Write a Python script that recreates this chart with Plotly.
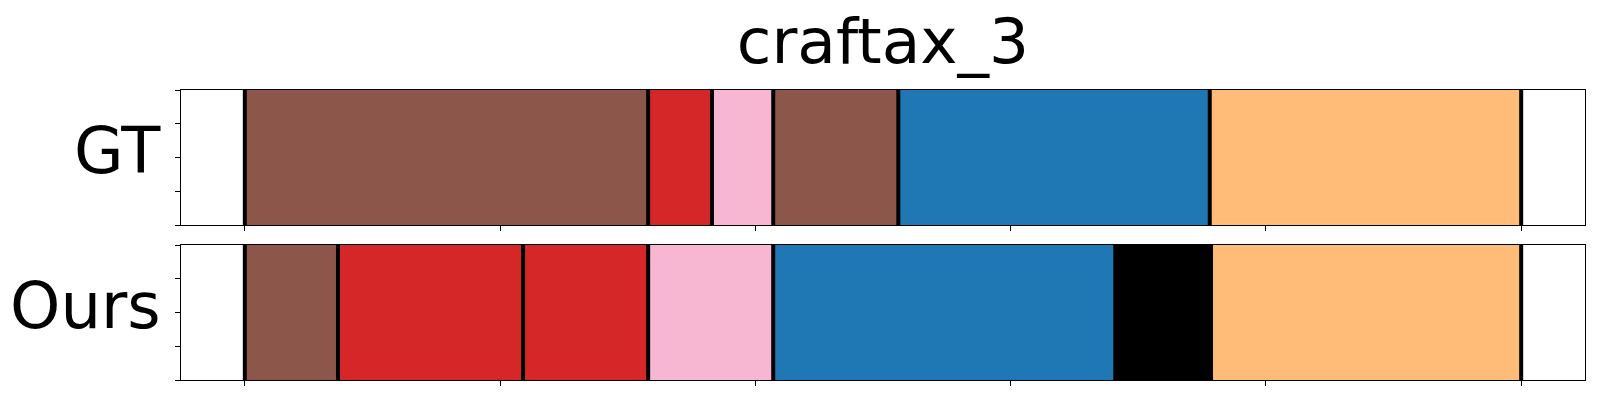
import plotly.graph_objects as go
from plotly.subplots import make_subplots

title = "craftax_3"
row_names = ["GT", "Ours"]

# segment boundaries (frame indices) and class of each segment
gt_bounds = [0, 158, 183, 207, 256, 378, 500]
gt_classes = ["mine", "craft", "place", "mine", "walk", "drink"]

ours_bounds = [0, 36.5, 109, 158, 207, 341, 378.5, 500]
ours_classes = ["mine", "craft", "craft", "place", "walk", "none", "drink"]

x_ticks = [0, 100, 200, 300, 400, 500]
y_ticks = [0, 0.25, 0.5, 0.75, 1.0]

class_colors = {
    "mine": "#8c564b",
    "craft": "#d62728",
    "place": "#f7b6d2",
    "walk": "#1f77b4",
    "drink": "#ffbb78",
    "none": "#000000",
}

# page has an 8px body margin, so the figure is drawn 8px in from the top-left
W, H = 1592, 392
ml, mr, mt, mb = 173, 15, 82, 20
ph = H - mt - mb
pw = W - ml - mr

fig = make_subplots(rows=2, cols=1, vertical_spacing=20 / ph)

rows = [(gt_bounds, gt_classes), (ours_bounds, ours_classes)]
for r, (bounds, classes) in enumerate(rows, start=1):
    starts = bounds[:-1]
    lengths = [b - a for a, b in zip(bounds[:-1], bounds[1:])]
    fig.add_trace(go.Bar(
        orientation="h",
        y=[0.5] * len(starts),
        x=lengths,
        base=starts,
        width=1,
        marker=dict(color=[class_colors[c] for c in classes], line=dict(width=0)),
        showlegend=False,
        hoverinfo="skip",
    ), row=r, col=1)
    lx, ly = [], []
    for b in bounds:
        lx += [b, b, None]
        ly += [0, 1, None]
    fig.add_trace(go.Scatter(
        x=lx, y=ly, mode="lines",
        line=dict(color="black", width=4),
        showlegend=False, hoverinfo="skip",
    ), row=r, col=1)

axis_common = dict(showline=True, linecolor="black", linewidth=1, mirror=True,
                   ticks="outside", ticklen=5, tickwidth=1, tickcolor="black",
                   showticklabels=False, showgrid=False, zeroline=False)
for r in (1, 2):
    fig.update_xaxes(range=[-25, 525], tickvals=x_ticks, **axis_common, row=r, col=1)
    fig.update_yaxes(range=[0, 1], tickvals=y_ticks, **axis_common, row=r, col=1)

# title centred over the plotting area
plot_cx = (ml + pw / 2) / W

fig.update_layout(
    width=W, height=H,
    margin=dict(l=ml, r=mr, t=mt, b=mb),
    plot_bgcolor="white", paper_bgcolor="white",
    barmode="overlay",
    font=dict(family="DejaVu Sans", color="black"),
    title=dict(text=title, x=plot_cx, xanchor="center", xref="container",
               y=1 - 33 / H, yanchor="middle", yref="container",
               font=dict(size=63, family="DejaVu Sans", color="black")),
)

# row labels
dom1 = fig.layout.yaxis.domain
dom2 = fig.layout.yaxis2.domain
for name, dom in zip(row_names, [dom1, dom2]):
    fig.add_annotation(
        text=name, xref="paper", yref="paper",
        x=-18 / pw, y=(dom[0] + dom[1]) / 2 + 7 / ph,
        xanchor="right", yanchor="middle", showarrow=False,
        font=dict(size=64, family="DejaVu Sans", color="black"),
    )

fig.write_html("out.html")
